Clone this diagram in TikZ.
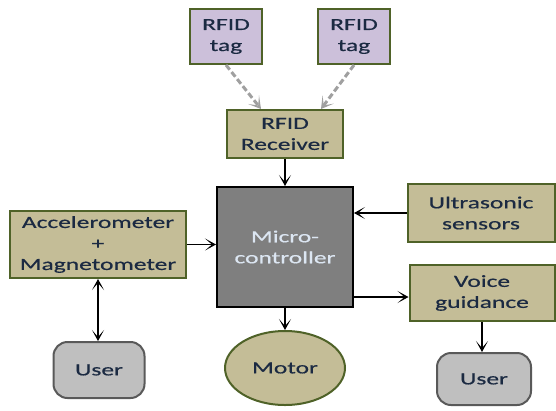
\documentclass[tikz,border=0pt]{standalone}
\usepackage{fontspec}
\setmainfont{Carlito}[FakeStretch=1.5,FakeBold=0.5]
\usetikzlibrary{shapes.geometric,arrows.meta}
\definecolor{olivefill}{HTML}{C4BD97}
\definecolor{greenedge}{HTML}{4F6228}
\definecolor{lavfill}{HTML}{CCC0DA}
\definecolor{userfill}{HTML}{BFBFBF}
\definecolor{useredge}{HTML}{595959}
\definecolor{microfill}{HTML}{7F7F7F}
\definecolor{txt}{HTML}{1B2A42}
\definecolor{microtxt}{HTML}{DCE6F2}
\definecolor{dashgray}{HTML}{A0A0A0}
\tikzset{
  tipstyle/.tip={Stealth[length=11pt,width=12pt,inset=7pt]},
  dtipstyle/.tip={Stealth[length=12pt,width=14pt,inset=7.5pt]}
}
\begin{document}
\begin{tikzpicture}[x=1pt,y=-1pt,
  every node/.style={font=\fontsize{17}{21}\selectfont, text=txt, align=center, inner sep=0pt},
  olivebox/.style={draw=greenedge, fill=olivefill, line width=2pt, rectangle},
  tagbox/.style={draw=greenedge, fill=lavfill, line width=2pt, rectangle},
  userbox/.style={draw=useredge, fill=userfill, line width=2pt, rectangle, rounded corners=14pt},
  conn/.style={line width=1.8pt, -tipstyle},
  dconn/.style={line width=3pt, dashgray, dash pattern=on 6pt off 3pt, -dtipstyle}
]
\useasboundingbox (0,0) rectangle (556,410);
\node[tagbox, minimum width=72pt, minimum height=55pt] (tag1) at (226,36.5) {RFID\\tag};
\node[tagbox, minimum width=72pt, minimum height=55pt] (tag2) at (354,36.5) {RFID\\tag};
\node[olivebox, minimum width=116pt, minimum height=48pt] (rec) at (285,134) {RFID\\Receiver};
\node[draw=black, fill=microfill, line width=2pt, minimum width=136pt, minimum height=120pt, text=microtxt] (mc) at (285,247) {Micro-\\controller};
\node[olivebox, minimum width=147pt, minimum height=58pt] (us) at (481,213) {Ultrasonic\\sensors};
\node[olivebox, minimum width=145pt, minimum height=56pt] (vg) at (482,293) {Voice\\guidance};
\node[ellipse, draw=greenedge, fill=olivefill, line width=2pt, minimum width=120pt, minimum height=74pt] (motor) at (285,368) {Motor};
\node[olivebox, minimum width=176pt, minimum height=67pt] (acc) at (98,244.5) {Accelerometer\\+\\Magnetometer};
\node[userbox, minimum width=91pt, minimum height=56pt] (userL) at (99,370) {User};
\node[userbox, minimum width=94pt, minimum height=52pt] (userR) at (484,379) {User};
\draw[dconn] (tag1.south) -- ([xshift=-24pt]rec.north);
\draw[dconn] (tag2.south) -- ([xshift=36pt]rec.north);
\draw[conn] (rec.south) -- (mc.north);
\draw[conn] (us.west) -- (us.west -| mc.east);
\draw[conn] ([yshift=-4pt]vg.west -| mc.east) -- ([yshift=-4pt]vg.west);
\draw[conn] (acc.east) -- (acc.east -| mc.west);
\draw[conn] (mc.south) -- (motor.north);
\draw[conn] (vg.south) -- (vg.south |- userR.north);
\draw[line width=1.8pt, tipstyle-tipstyle] (acc.south) -- (acc.south |- userL.north);
\end{tikzpicture}
\end{document}
